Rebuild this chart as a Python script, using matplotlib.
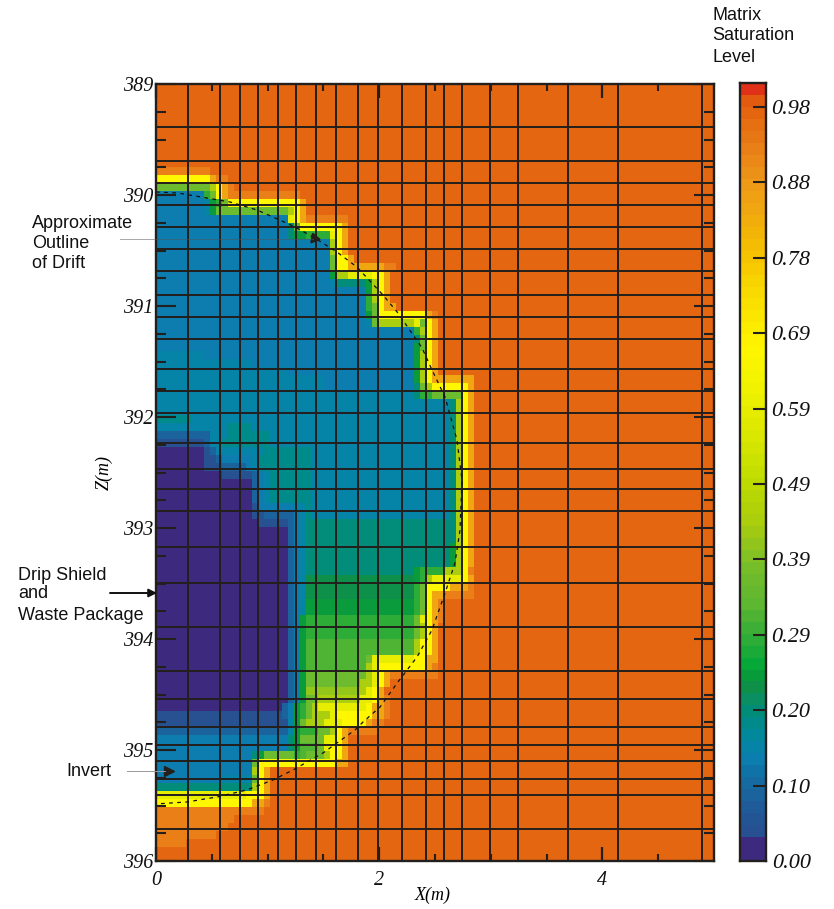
import numpy as np
import matplotlib
matplotlib.use('Agg')
import matplotlib.pyplot as plt
from matplotlib.colors import LinearSegmentedColormap, Normalize
from matplotlib.lines import Line2D

W, H = 834, 909

# saturation value for each letter of the map below
levels = {'P': 0.005, 'd': 0.04, 'b': 0.09, 'B': 0.13, 't': 0.155, 'u': 0.172, 'T': 0.19, 'e': 0.225,
          'E': 0.245, 'g': 0.285, 'h': 0.32, 'G': 0.37, 'k': 0.41, 'l': 0.45, 'L': 0.58,
          'Y': 0.66, 'a': 0.84, 'o': 0.92, 'O': 0.975}

# cells, top to bottom, left to right: letter + repeat count.
# whatever is not listed in a row is background orange
sat_rows = [
    "o9", "Y9 a o2", "G9 l Y a o", "B8 g G Y a o12", "B8 t E g G Y12 a", "B8 t E G12 l Y a",
    "B22 L Y a o7", "B22 T G Y7 a", "B22 T E2 g4 L Y a", "B29 l Y a", "B29 l Y a", "B29 G Y2 a",
    "B29 G Y2 a6 o2", "B29 E l2 L4 Y2 a", "B29 t T5 E l Y a", "B35 E l Y a", "B35 g l Y a",
    "B35 g G Y a2", "B35 E G Y8 a o", "B35 t G l6 L G Y a", "B43 g l Y a", "B43 T G Y a",
    "B43 E G Y a", "t8 B35 E l Y a", "t16 B27 E l Y a", "t22 B21 E l Y a", "t28 B15 E l Y a7",
    "t28 B15 T G l Y6 a", "t43 T g2 G5 Y a", "t49 T l Y a", "t49 T l Y a", "u6 t43 T l Y a",
    "t12 u4 t33 T l Y a", "b9 t3 u7 t30 T l Y a", "d8 b t2 u8 t30 T l Y a",
    "P8 d b t8 u8 t23 T l Y a", "P8 d2 b B5 t u9 t23 T l Y a", "P8 d3 b4 B t u9 t23 T l Y a",
    "P11 d5 b B t u7 t23 T l Y a", "P16 b B t u7 t23 T l Y a", "P16 b B t u7 t23 T l Y a",
    "P16 b B t u7 t23 T l Y a", "P16 d B6 t2 u t23 T l Y a", "P16 d2 b5 B t u t23 T l Y a",
    "P17 d5 b B t T25 l Y a", "P22 b B t T25 l Y a", "P22 b B t T25 l Y a",
    "P22 b B t T24 E l Y a", "P22 b B t T24 E l Y a", "P22 b B t T24 E l Y a",
    "P22 b B t T18 E g4 l3 Y o", "P22 b B t e18 E g l L5 Y a", "P22 b B t e18 g G Y4 a3 o",
    "P22 b B t e18 g G Y a2 o5", "P22 b B t E18 g G Y a o", "P22 b B t E18 g G Y a o",
    "P22 b B E g18 G L Y a o", "P22 b B E g18 G l Y a", "P22 b B E g18 G l Y a",
    "P22 b B E h18 l Y2 a", "P22 b B E h18 l Y2 a", "P22 b B E h10 G L7 Y2 a2",
    "P22 b B E h10 l L Y8 a o", "P22 b B E G10 l L Y a o8", "P22 b B E G9 l2 L Y a",
    "P22 b B E k9 l L Y a", "P22 b B E G2 l7 L2 Y a o", "P21 b B E g G l L8 Y a2 o",
    "d21 b B E g G l3 L Y6 a2 o", "d22 t E G l3 L3 Y4 a o2", "b22 t E g3 G2 l Y a o5",
    "B22 T E G4 L2 Y a", "B22 T E h3 G L Y2 a", "B16 T E G5 g h G3 l Y2 a", "B16 G Y13 a2",
    "B16 l Y a", "B11 t5 G Y a", "T16 l Y a", "L15 Y3 a", "Y16 a2 o", "o18", "o13", "o12", "o10", "o5",
    "", "",
]

# mesh lines of the model
mesh_x = [0.287, 0.573, 0.753, 0.914, 1.093, 1.254, 1.434, 1.613, 1.810, 1.989, 2.204, 2.419,
          2.581, 2.742, 2.993, 3.244, 3.692, 4.140, 4.892]
mesh_z = [389.387, 389.694, 389.892, 390.090, 390.288, 390.486, 390.685, 390.901, 391.099,
          391.297, 391.568, 391.766, 391.964, 392.234, 392.468, 392.649, 392.847, 393.171,
          393.495, 393.892, 394.288, 394.541, 394.793, 394.955, 395.099, 395.261, 395.405, 395.712]

# drift outline
drift_x = [0.0, 0.197, 0.663, 0.905, 1.228, 1.407, 1.622, 1.801, 2.034, 2.168, 2.384, 2.482, 2.590,
           2.697, 2.742, 2.724, 2.679, 2.590, 2.473, 2.339, 2.168, 2.007, 1.855, 1.783, 1.496,
           1.228, 1.048, 0.815, 0.547, 0.278, 0.0]
drift_z = [389.973, 389.982, 390.063, 390.135, 390.279, 390.378, 390.514, 390.649, 390.901, 391.063,
           391.378, 391.595, 391.820, 392.207, 392.568, 393.018, 393.315, 393.586, 393.919,
           394.162, 394.387, 394.613, 394.748, 394.820, 395.027, 395.180, 395.270, 395.360,
           395.423, 395.468, 395.486]

cbar_ticks = [0.0, 0.098, 0.196, 0.294, 0.392, 0.49, 0.588, 0.686, 0.784, 0.882, 0.98]
x_major = [0, 2, 4]
x_minor = [0.5, 1, 1.5, 2.5, 3, 3.5, 4.5]
z_major = [389, 390, 391, 392, 393, 394, 395, 396]

# colour scale, 65 flat bands
anchors = [(0.0, '#3d2a7e'), (0.017, '#3d2a7e'), (0.02, '#2b4d90'), (0.06, '#205a98'), (0.10, '#136ea4'),
           (0.13, '#0a80b0'), (0.16, '#008a98'), (0.185, '#008c7c'), (0.205, '#0a9060'),
           (0.225, '#109040'), (0.245, '#00a838'), (0.29, '#38ae38'), (0.33, '#60b830'),
           (0.37, '#72bc2d'), (0.43, '#a8cc10'), (0.49, '#c0dc00'), (0.55, '#dce800'),
           (0.62, '#f4f400'), (0.66, '#fff700'), (0.70, '#fce800'), (0.74, '#f8d800'),
           (0.78, '#f7c400'), (0.84, '#f0a810'), (0.88, '#ee9818'), (0.92, '#ea8018'),
           (0.96, '#e56c10'), (0.985, '#e25a10'), (0.99, '#e03018'), (1.0, '#e03018')]
vmax = 1.011
cmap = LinearSegmentedColormap.from_list('sat', [(v, c) for v, c in anchors], N=65)
norm = Normalize(0, vmax)

ink = '#231f1c'
sans = 'Liberation Sans'
serif = 'Liberation Serif'


def fx(px):
    return px / W


def fy(py):
    return 1 - py / H


# expand the runs into a value table
n_cols = 94
table = []
for row in sat_rows:
    cells = []
    for run in row.split():
        cells += [levels[run[0]]] * int(run[1:] or 1)
    cells += [levels['O']] * (n_cols - len(cells))
    table.append(cells)
table = [[levels['O']] * n_cols] + table
table = np.array(table)

dx = 6 / 111.6
dz = 8 / 111
col_edges = np.arange(n_cols + 1) * dx
row_edges = np.concatenate([[389], 389.748 + np.arange(len(sat_rows) + 1) * dz])

fig = plt.figure(figsize=(W / 100, H / 100), dpi=100)
ax = fig.add_axes([fx(156), fy(861), 558 / W, 777 / H])
ax.pcolormesh(col_edges, row_edges, table, cmap=cmap, norm=norm, antialiased=False, linewidth=0)
ax.set_xlim(0, 5)
ax.set_ylim(396, 389)

for x in mesh_x:
    ax.axvline(x, color=ink, lw=1.4)
for z in mesh_z:
    ax.axhline(z, color=ink, lw=1.4)

ax.plot(drift_x, drift_z, color='#111111', lw=0.9, ls=(0, (3, 3.5)))
ax.plot([1.42], [390.385], marker=(3, 0, -100), ms=8, color=ink)
ax.plot([0.116], [395.19], marker='>', ms=7, color=ink)

# ticks
ax.set_xticks(x_major)
ax.set_xticks(x_minor, minor=True)
ax.set_yticks(z_major)
ax.set_yticks(np.arange(389.25, 396, 0.25), minor=True)
ax.tick_params(axis='x', which='major', direction='in', length=10, width=1.6, color=ink, top=True, pad=7)
ax.tick_params(axis='x', which='minor', direction='in', length=5, width=1.5, color=ink, top=True)
ax.tick_params(axis='y', which='major', direction='in', length=14.5, width=1.5, color=ink, right=True, pad=2)
ax.tick_params(axis='y', which='minor', direction='in', length=7.5, width=1.5, color=ink, right=True)
for lab in ax.get_xticklabels() + ax.get_yticklabels():
    lab.set_fontfamily(serif)
    lab.set_fontstyle('italic')
    lab.set_fontsize(14.5)
    lab.set_color('#111111')
for s in ax.spines.values():
    s.set_linewidth(1.7)
    s.set_color(ink)

fig.text(fx(433), fy(895), 'X(m)', family=serif, style='italic', fontsize=13, ha='center', va='center')
fig.text(fx(104), fy(472), 'Z(m)', family=serif, style='italic', fontsize=13, ha='center', va='center', rotation=90)

# colour bar
cax = fig.add_axes([fx(740), fy(861), 26 / W, 778 / H])
bar = np.linspace(0, vmax, 65, endpoint=False)[:, None] + vmax / 130
cax.imshow(bar, origin='lower', aspect='auto', cmap=cmap, norm=norm, extent=[0, 1, 0, vmax],
           interpolation='nearest')
cax.set_xticks([])
cax.yaxis.tick_right()
cax.set_yticks(cbar_ticks[1:])
cax.set_yticklabels(['%.2f' % t for t in cbar_ticks[1:]], family=serif, style='italic', fontsize=16, color='#111111')
cax.tick_params(axis='y', direction='in', length=9.5, width=1.5, color=ink, pad=4)
for s in cax.spines.values():
    s.set_linewidth(1.7)
    s.set_color(ink)
fig.text(fx(772), fy(864), '0.00', family=serif, style='italic', fontsize=16, color='#111111', ha='left', va='center')

# notes round the plot
notes = [(712, 15, 'Matrix'), (712, 36, 'Saturation'), (712, 57, 'Level'),
         (32, 223, 'Approximate'), (32, 243, 'Outline'), (32, 263, 'of Drift'),
         (18, 575, 'Drip Shield'), (18, 593, 'and'), (18, 615, 'Waste Package'),
         (66, 771, 'Invert')]
for px, py, s in notes:
    fig.text(fx(px), fy(py), s, family=sans, fontsize=13, color='#111111', ha='left', va='center')

fig.add_artist(Line2D([fx(120), fx(313)], [fy(239), fy(239)], color='#555555', lw=0.6, alpha=0.6))
fig.add_artist(Line2D([fx(127), fx(165)], [fy(771), fy(771)], color='#999999', lw=0.7))
ax.annotate('', xy=(fx(157), fy(593)), xytext=(fx(110), fy(593)), xycoords='figure fraction',
            textcoords='figure fraction', annotation_clip=False,
            arrowprops=dict(arrowstyle='-|>', color='#111111', lw=1.4, mutation_scale=12, shrinkA=0, shrinkB=0))

fig.savefig('out.png', dpi=100)
